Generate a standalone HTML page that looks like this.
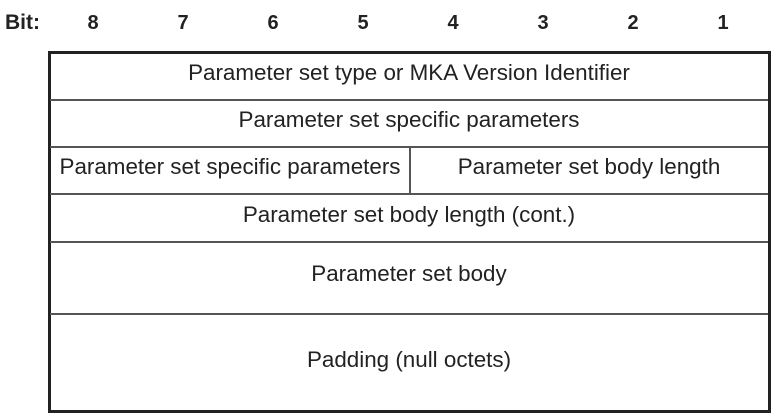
<!DOCTYPE html>
<html><head><style>
body{margin:0;width:776px;height:416px;background:#fff;position:relative;font-family:"Liberation Sans",Arial,sans-serif;color:#222;overflow:hidden}
.b{position:absolute;top:11px;font-weight:bold;font-size:20px;width:30px;text-align:center;margin-left:-15px;line-height:24px}
.t{position:absolute;font-size:22.4px;text-align:center;line-height:26px;white-space:nowrap}
.h{position:absolute;left:50px;width:718px;height:2px;background:#555}
</style></head><body>
<div class="b" style="left:20px;width:50px;margin-left:-15px;text-align:left;font-size:21px">Bit:</div>
<div class="b" style="left:93px">8</div>
<div class="b" style="left:183px">7</div>
<div class="b" style="left:273px">6</div>
<div class="b" style="left:363px">5</div>
<div class="b" style="left:453px">4</div>
<div class="b" style="left:543px">3</div>
<div class="b" style="left:633px">2</div>
<div class="b" style="left:723px">1</div>
<div style="position:absolute;left:48px;top:51px;width:717px;height:356px;border:3px solid #222"></div>
<div class="h" style="top:99px"></div>
<div class="h" style="top:146px"></div>
<div class="h" style="top:193px"></div>
<div class="h" style="top:241px"></div>
<div class="h" style="top:313px"></div>
<div style="position:absolute;left:409px;top:147px;width:2px;height:47px;background:#555"></div>
<div class="t" style="left:50px;width:718px;top:60px">Parameter set type or MKA Version Identifier</div>
<div class="t" style="left:50px;width:718px;top:107px">Parameter set specific parameters</div>
<div class="t" style="left:50px;width:360px;top:154px">Parameter set specific parameters</div>
<div class="t" style="left:410px;width:358px;top:154px">Parameter set body length</div>
<div class="t" style="left:50px;width:718px;top:202px">Parameter set body length (cont.)</div>
<div class="t" style="left:50px;width:718px;top:261px">Parameter set body</div>
<div class="t" style="left:50px;width:718px;top:347px">Padding (null octets)</div>
</body></html>
